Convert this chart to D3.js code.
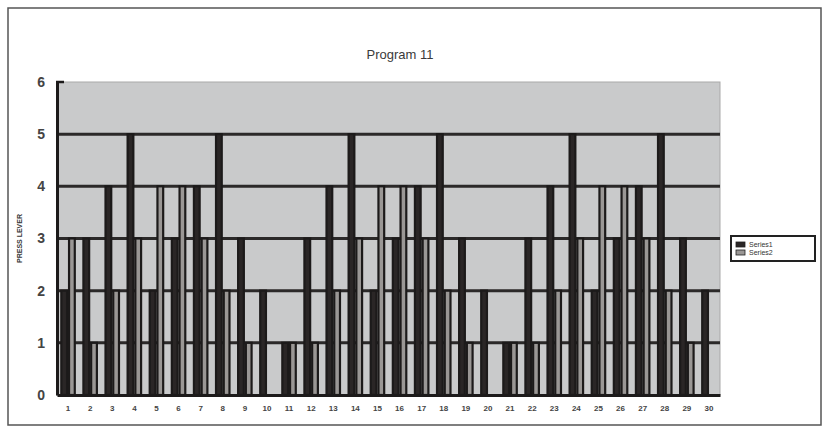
<!DOCTYPE html>
<html>
<head>
<meta charset="UTF-8">
<script src="https://cdn.jsdelivr.net/npm/d3@7"></script>
<style>
  body { margin: 0; background: #fff; font-family: Arial, "Liberation Sans", sans-serif; }
</style>
</head>
<body>
<div id="chart"></div>
<script>
// values
const categories = d3.range(1, 31).map(String);
const seriesNames = ["Series1", "Series2"];
const series1 = [2, 3, 4, 5, 2, 3, 4, 5, 3, 2, 1, 3, 4, 5, 2, 3, 4, 5, 3, 2, 1, 3, 4, 5, 2, 3, 4, 5, 3, 2];
const series2 = [3, 1, 2, 3, 4, 4, 3, 2, 1, 0, 1, 1, 2, 3, 4, 4, 3, 2, 1, 0, 1, 1, 2, 3, 4, 4, 3, 2, 1, 0];
const yTicks = [0, 1, 2, 3, 4, 5, 6];

const w = 823, h = 443;
const plot = { left: 57, right: 720, top: 82, bottom: 395 };
const fills = ["#2a2626", "#9a9795"];

const svg = d3.select('#chart').append('svg')
    .attr('width', w)
    .attr('height', h);

// outer frame
svg.append('rect')
    .attr('x', 8).attr('y', 8)
    .attr('width', 813).attr('height', 417)
    .attr('fill', '#fff')
    .attr('stroke', '#555')
    .attr('stroke-width', 1.5);

svg.append('text')
    .attr('x', 400).attr('y', 59)
    .attr('text-anchor', 'middle')
    .attr('font-size', 13)
    .attr('fill', '#3a3a3a')
    .text('Program 11');

const x = d3.scaleBand()
    .domain(categories)
    .range([plot.left, plot.right])
    .paddingInner(0.3)
    .paddingOuter(0.15);

const xSub = d3.scaleBand()
    .domain(seriesNames)
    .range([0, x.bandwidth()]);

const y = d3.scaleLinear()
    .domain([0, 6])
    .range([plot.bottom, plot.top]);

// plot area
svg.append('rect')
    .attr('x', plot.left).attr('y', plot.top)
    .attr('width', plot.right - plot.left)
    .attr('height', plot.bottom - plot.top)
    .attr('fill', '#c9cacb')
    .attr('stroke', '#a9a9a9')
    .attr('stroke-width', 1);

// gridlines
svg.append('g')
    .selectAll('line')
    .data(yTicks.filter(d => d > 0 && d < 6))
    .enter()
    .append('line')
    .attr('x1', plot.left).attr('x2', plot.right)
    .attr('y1', d => y(d)).attr('y2', d => y(d))
    .attr('stroke', '#2b2929')
    .attr('stroke-width', 3);

// bars
const rows = categories.map((c, i) => ({ cat: c, values: [series1[i], series2[i]] }));

const groups = svg.append('g')
    .selectAll('g')
    .data(rows)
    .enter()
    .append('g')
    .attr('transform', d => `translate(${x(d.cat)},0)`);

groups.selectAll('rect')
    .data(d => d.values.map((v, j) => ({ name: seriesNames[j], v: v, j: j })))
    .enter()
    .append('rect')
    .attr('x', d => xSub(d.name) + 1)
    .attr('y', d => y(d.v))
    .attr('width', xSub.bandwidth() - 2)
    .attr('height', d => y(0) - y(d.v))
    .attr('fill', d => fills[d.j])
    .attr('stroke', '#1c1a1a')
    .attr('stroke-width', 2.2);

// axes
const yAxis = d3.axisLeft(y).tickValues(yTicks).tickFormat(d3.format('d')).tickSize(0).tickPadding(12);
const gy = svg.append('g')
    .attr('transform', `translate(${plot.left},0)`)
    .call(yAxis);
gy.select('.domain').attr('stroke', '#1c1a1a').attr('stroke-width', 3);
gy.selectAll('text').attr('font-size', 14).attr('font-weight', 'bold').attr('fill', '#444');

// little tick at the top of the y axis
svg.append('line')
    .attr('x1', plot.left - 1).attr('x2', plot.left + 7)
    .attr('y1', y(6)).attr('y2', y(6))
    .attr('stroke', '#1c1a1a').attr('stroke-width', 2.5);

const xAxis = d3.axisBottom(x).tickSize(0).tickPadding(10);
const gx = svg.append('g')
    .attr('transform', `translate(0,${plot.bottom})`)
    .call(xAxis);
gx.select('.domain').attr('stroke', '#1c1a1a').attr('stroke-width', 3);
gx.selectAll('text').attr('font-size', 8).attr('font-weight', 'bold').attr('fill', '#444');

svg.append('text')
    .attr('transform', `translate(22,${(plot.top + plot.bottom) / 2}) rotate(-90)`)
    .attr('text-anchor', 'middle')
    .attr('font-size', 7)
    .attr('font-weight', 'bold')
    .attr('fill', '#333')
    .text('PRESS LEVER');

// legend
const legend = svg.append('g').attr('transform', 'translate(731,236)');
legend.append('rect')
    .attr('width', 84).attr('height', 25)
    .attr('fill', '#fff')
    .attr('stroke', '#222')
    .attr('stroke-width', 2);
seriesNames.forEach((s, i) => {
    legend.append('rect')
        .attr('x', 5).attr('y', 6 + i * 8)
        .attr('width', 9).attr('height', 5)
        .attr('fill', fills[i]).attr('stroke', '#222').attr('stroke-width', 0.8);
    legend.append('text')
        .attr('x', 18).attr('y', 11 + i * 8)
        .attr('font-size', 7)
        .attr('fill', '#333')
        .text(s);
});
</script>
</body>
</html>
